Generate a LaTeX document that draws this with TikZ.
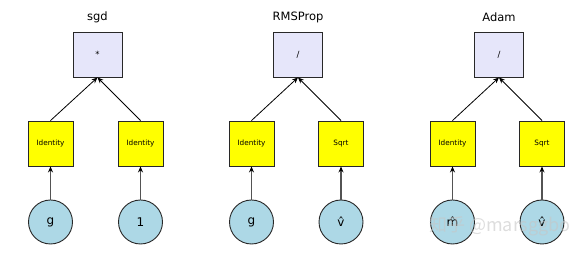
\documentclass[tikz,border=0pt]{standalone}
\usepackage{fontspec}
\setmainfont{DejaVu Sans}
\newfontfamily\cjkfont{Noto Sans CJK SC}
\usetikzlibrary{arrows.meta}
\definecolor{opfill}{RGB}{230,230,250}
\definecolor{fnfill}{RGB}{255,255,0}
\definecolor{infill}{RGB}{173,216,230}
\definecolor{edgegray}{RGB}{40,40,40}
\tikzset{
  opbox/.style={draw=edgegray, line width=0.9pt, fill=opfill, minimum width=49pt, minimum height=45pt, inner sep=0pt, font=\fontsize{8.5}{10}\selectfont},
  fnbox/.style={draw=edgegray, line width=0.9pt, fill=fnfill, minimum width=45pt, minimum height=45pt, inner sep=0pt, font=\fontsize{7.3}{8}\selectfont},
  innode/.style={circle, draw=edgegray, line width=0.9pt, fill=infill, minimum size=44pt, inner sep=0pt, font=\fontsize{12}{14}\selectfont},
  ttl/.style={font=\fontsize{11.5}{13}\selectfont, inner sep=0pt},
  conn/.style={-{Stealth[length=6pt,width=5pt]}, line width=0.8pt, black},
  inconn/.style={-{Stealth[length=6pt,width=5pt,black]}, line width=1.1pt, edgegray!80},
  wmark/.style={font=\cjkfont\fontsize{18}{20}\selectfont, text=gray!45, opacity=0.6, inner sep=0pt}
}
\begin{document}
\begin{tikzpicture}[x=1pt,y=-1pt]
\useasboundingbox (0,0) rectangle (587,253);
% sgd
\node[ttl] (t1) at (97.5,17) {sgd};
\node[opbox] (o1) at (97.5,54.5) {*};
\node[fnbox] (f1a) at (50.5,143.5) {Identity};
\node[fnbox] (f1b) at (140.5,143.5) {Identity};
\node[innode] (i1a) at (50.5,222) {g};
\node[innode] (i1b) at (140.5,222) {1};
% RMSProp
\node[ttl] (t2) at (298,17) {RMSProp};
\node[opbox] (o2) at (298,54.5) {/};
\node[fnbox] (f2a) at (251.5,143.5) {Identity};
\node[fnbox] (f2b) at (341,143.5) {Sqrt};
\node[innode] (i2a) at (251.5,222) {g};
\node[innode] (i2b) at (341,222) {\^{v}};
% Adam
\node[ttl] (t3) at (499,17) {Adam};
\node[opbox] (o3) at (499,54.5) {/};
\node[fnbox] (f3a) at (452.5,143.5) {Identity};
\node[fnbox] (f3b) at (542,143.5) {Sqrt};
\node[innode] (i3a) at (452.5,222) {\^{m}};
\node[innode] (i3b) at (542,222) {\^{v}};
% connectors
\foreach \g in {1,2,3}{
  \draw[inconn] (i\g a.north) -- (f\g a.south);
  \draw[inconn] (i\g b.north) -- (f\g b.south);
  \draw[conn] (f\g a.north) -- (o\g.south);
  \draw[conn] (f\g b.north) -- (o\g.south);
}
% watermark
\node[wmark, anchor=west] (wm) at (429,226) {知乎 @marsggbo};
\end{tikzpicture}
\end{document}
